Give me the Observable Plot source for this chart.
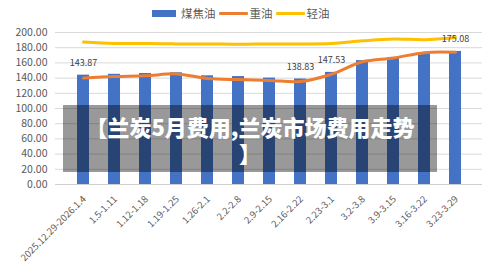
<!DOCTYPE html>
<html>
<head>
<meta charset="utf-8">
<script src="https://cdn.jsdelivr.net/npm/d3@7"></script>
<script src="https://cdn.jsdelivr.net/npm/@observablehq/plot@0.6"></script>
<style>
  html, body { margin: 0; padding: 0; background: #fff; }
  #wrap { position: relative; width: 500px; height: 277px; font-family: "Noto Sans CJK SC", "Noto Sans", sans-serif; }
  #legend { height: 25px; display: flex; align-items: center; padding-left: 152px; font-size: 11.5px; color: #595959; box-sizing: border-box; padding-top: 1px; }
  #legend .item { display: flex; align-items: center; margin-right: 3px; }
  #legend .sw-rect { width: 24px; height: 7px; margin-right: 5px; }
  #legend .sw-line { width: 29px; height: 3px; margin-right: 2px; border-radius: 1px; }
  #overlay { position: absolute; left: 63px; top: 105px; width: 374px; height: 67px; background: rgba(0,0,0,0.4);
    display: flex; flex-direction: column; align-items: center; justify-content: center;
    color: #fff; font-weight: 900; font-size: 22px; line-height: 26px; font-family: "Noto Sans CJK SC", sans-serif; }
</style>
</head>
<body>
<div id="wrap">
  <div id="legend"></div>
  <div id="chart"></div>
  <div id="overlay"><div>【兰炭5月费用,兰炭市场费用走势</div><div>】</div></div>
</div>
<script>
const categories = ["2025.12.29-2026.1.4","1.5-1.11","1.12-1.18","1.19-1.25","1.26-2.1","2.2-2.8","2.9-2.15","2.16-2.22","2.23-3.1","3.2-3.8","3.9-3.15","3.16-3.22","3.23-3.29"];
const coalTar = [143.87, 145, 146, 147, 143, 142, 140, 138.83, 147.53, 163, 167, 173, 175.08];
const heavyOil = [140, 142, 143, 145.5, 139.5, 138, 137, 135.5, 145, 161.5, 166.5, 173.5, 174];
const lightOil = [187.5, 185.5, 185.5, 185, 185, 184.5, 185, 185, 185.5, 189, 191.5, 190.5, 193.5];
const labeled = ["2025.12.29-2026.1.4", "2.16-2.22", "2.23-3.1", "3.23-3.29"];
const seriesNames = ["煤焦油", "重油", "轻油"];
const seriesColors = ["#4472C4", "#ED7D31", "#FFC000"];
const yTicks = [0, 20, 40, 60, 80, 100, 120, 140, 160, 180, 200];

const bars = categories.map((c, i) => ({cat: c, v: coalTar[i]}));
const heavy = categories.map((c, i) => ({cat: c, v: heavyOil[i]}));
const light = categories.map((c, i) => ({cat: c, v: lightOil[i]}));
const labels = bars.filter(d => labeled.includes(d.cat));

// legend
const lg = document.getElementById("legend");
seriesNames.forEach((n, i) => {
  const it = document.createElement("div");
  it.className = "item";
  const sw = document.createElement("div");
  sw.className = i === 0 ? "sw-rect" : "sw-line";
  sw.style.background = seriesColors[i];
  const t = document.createElement("span");
  t.textContent = n;
  it.appendChild(sw); it.appendChild(t);
  lg.appendChild(it);
});

const plot = Plot.plot({
  width: 500,
  height: 252,
  marginTop: 7,
  marginBottom: 93,
  marginLeft: 55,
  marginRight: 18,
  style: { fontFamily: "'Noto Sans CJK SC', 'Noto Sans', sans-serif", background: "#fff", overflow: "visible" },
  x: { domain: categories, padding: 0.62, label: null },
  y: { domain: [0, 200], label: null },
  marks: [
    Plot.gridY(yTicks, { stroke: "#d9d9d9", strokeOpacity: 1, strokeWidth: 1 }),
    Plot.axisY(yTicks, { tickSize: 0, tickPadding: 8, tickFormat: d3.format(".2f"), fontSize: 10.5, fill: "#595959", label: null }),
    Plot.axisX({ tickSize: 0, tickPadding: 13, tickRotate: -45, fontSize: 9.5, fill: "#595959", label: null, dx: 1 }),
    Plot.barY(bars, { x: "cat", y: "v", fill: seriesColors[0] }),
    Plot.ruleY([0], { stroke: "#d0d0d0", strokeWidth: 1 }),
    Plot.line(heavy, { x: "cat", y: "v", stroke: seriesColors[1], strokeWidth: 3, curve: "catmull-rom" }),
    Plot.line(light, { x: "cat", y: "v", stroke: seriesColors[2], strokeWidth: 3, curve: "catmull-rom" }),
    Plot.text(labels, { x: "cat", y: "v", text: d => d3.format(".2f")(d.v), dy: -12, fontSize: 9, fill: "#404040" })
  ]
});
document.getElementById("chart").appendChild(plot);
</script>
</body>
</html>
